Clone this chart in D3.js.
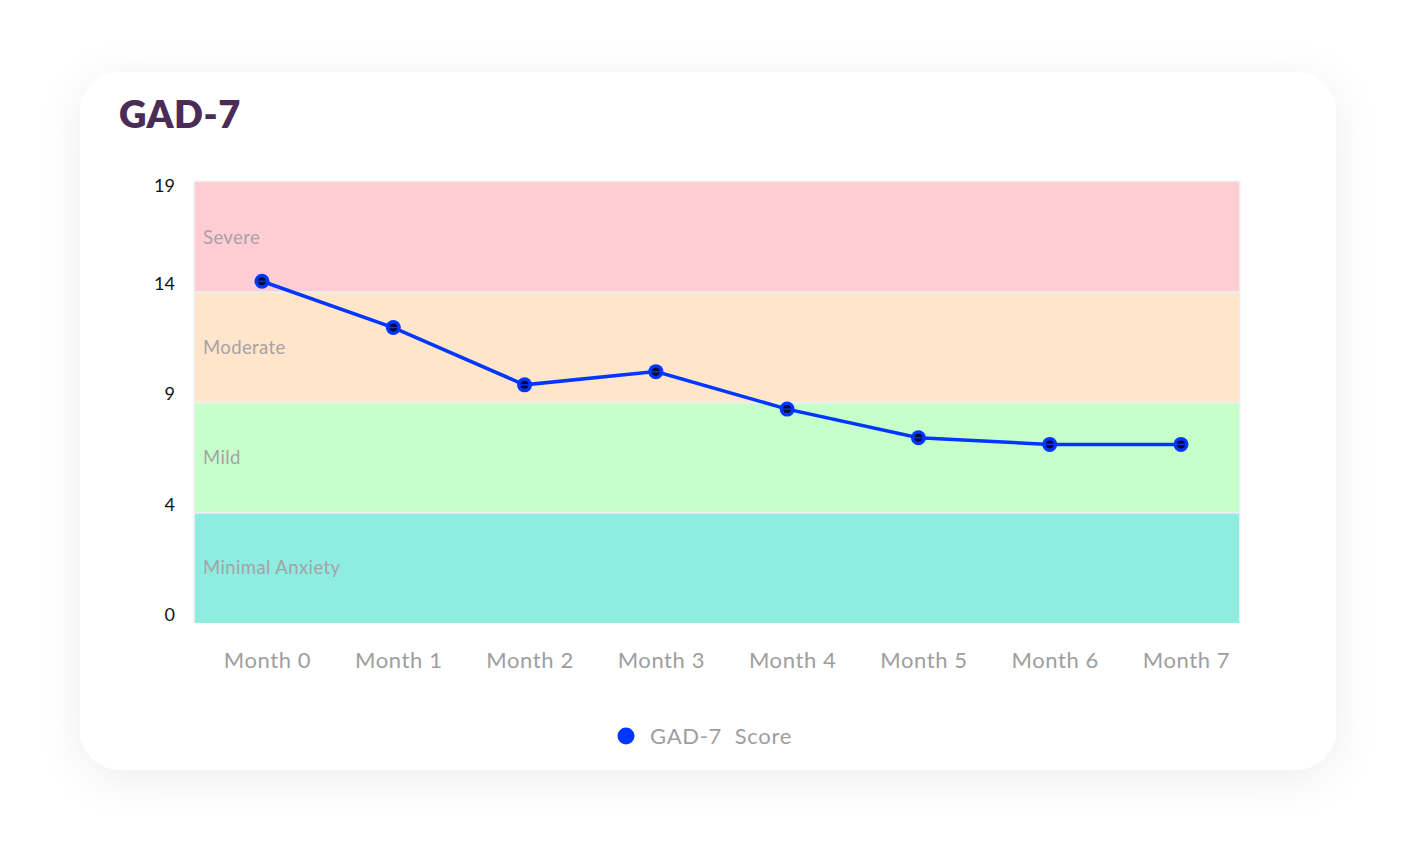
<!DOCTYPE html>
<html>
<head>
<meta charset="utf-8">
<script src="https://cdn.jsdelivr.net/npm/d3@7"></script>
<style>
  html, body { margin: 0; padding: 0; background: #fff; }
  body { width: 1417px; height: 858px; overflow: hidden; font-family: "Lato", "Open Sans", sans-serif; }
</style>
</head>
<body>
<div id="chart"></div>
<script>
// 数据
const months = ["Month 0", "Month 1", "Month 2", "Month 3", "Month 4", "Month 5", "Month 6", "Month 7"];
const scores = [14.5, 12.4, 9.8, 10.4, 8.7, 7.4, 7.1, 7.1];
const yTicks = [0, 4, 9, 14, 19];
const bandNames = ["Minimal Anxiety", "Mild", "Moderate", "Severe"];
const bandColors = ["#8cede0", "#c7ffcb", "#ffe6ca", "#ffcdd3"];

// 布局
const width = 1417, height = 858;
const card = { x: 80, y: 72, w: 1256, h: 698, r: 40 };
const plot = { left: 195, right: 1239, top: 182, bottom: 623 };

const svg = d3.select("#chart").append("svg")
    .attr("width", width)
    .attr("height", height);

// 卡片阴影
const defs = svg.append("defs");
const shadow = defs.append("filter")
    .attr("id", "shadow")
    .attr("x", "-20%").attr("y", "-20%")
    .attr("width", "140%").attr("height", "140%");
shadow.append("feDropShadow")
    .attr("dx", 0).attr("dy", 8)
    .attr("stdDeviation", 22)
    .attr("flood-color", "#000")
    .attr("flood-opacity", 0.07);

svg.append("rect")
    .attr("x", card.x).attr("y", card.y)
    .attr("width", card.w).attr("height", card.h)
    .attr("rx", card.r)
    .attr("fill", "#fff")
    .attr("filter", "url(#shadow)");

svg.append("text")
    .attr("x", 119).attr("y", 128)
    .attr("fill", "#4a2c56")
    .style("font-size", "38px")
    .style("font-weight", 800)
    .style("letter-spacing", "0.5px")
    .text("GAD-7");

// 分段比例尺：每个等级同样高度
const bandH = (plot.bottom - plot.top) / bandNames.length;
const y = d3.scaleLinear()
    .domain(yTicks)
    .range(yTicks.map((d, i) => plot.bottom - i * bandH));

const x = d3.scalePoint()
    .domain(months)
    .range([262, 1181]);

// 外框
svg.append("rect")
    .attr("x", plot.left - 1.5).attr("y", plot.top - 1.5)
    .attr("width", plot.right - plot.left + 3)
    .attr("height", plot.bottom - plot.top + 1.5)
    .attr("fill", "#eeeeee");

const bands = bandNames.map((name, i) => ({ name, lo: yTicks[i], hi: yTicks[i + 1], color: bandColors[i] }));

svg.append("g").selectAll("rect")
    .data(bands)
    .join("rect")
    .attr("x", plot.left)
    .attr("width", plot.right - plot.left)
    .attr("y", d => y(d.hi) + (d.hi === 19 ? 0 : 1))
    .attr("height", d => y(d.lo) - y(d.hi) - (d.hi === 19 ? 1 : 2) + (d.lo === 0 ? 1 : 0))
    .attr("fill", d => d.color);

svg.append("g").selectAll("text")
    .data(bands)
    .join("text")
    .attr("x", plot.left + 8)
    .attr("y", d => (y(d.lo) + y(d.hi)) / 2)
    .attr("dy", "0.35em")
    .attr("fill", "#a6a2a7")
    .style("font-size", "18.5px")
    .style("letter-spacing", "0.4px")
    .text(d => d.name);

// Y 轴刻度
const yAxis = svg.append("g")
    .attr("transform", `translate(${plot.left - 20},0)`)
    .call(d3.axisLeft(y).tickValues(yTicks).tickSize(0).tickPadding(0));
yAxis.select(".domain").remove();
yAxis.selectAll("text")
    .attr("fill", "#111")
    .style("font-family", "Lato, sans-serif")
    .style("font-size", "18px")
    .attr("y", d => d === 19 ? 4 : -8.5)
    .attr("dy", "0.32em");

// X 轴刻度
const xAxis = svg.append("g")
    .attr("transform", `translate(5,${plot.bottom})`)
    .call(d3.axisBottom(x).tickSize(0).tickPadding(0));
xAxis.select(".domain").remove();
xAxis.selectAll("text")
    .attr("fill", "#9e9e9e")
    .style("font-family", "Lato, sans-serif")
    .style("font-size", "22px")
    .style("letter-spacing", "0.6px")
    .attr("y", 37)
    .attr("dy", "0.35em");

// 折线
const line = d3.line()
    .x((d, i) => x(months[i]))
    .y(d => y(d));

svg.append("path")
    .datum(scores)
    .attr("d", line)
    .attr("fill", "none")
    .attr("stroke", "#0036ff")
    .attr("stroke-width", 3.5);

const pts = svg.append("g").selectAll("g")
    .data(scores)
    .join("g")
    .attr("transform", (d, i) => `translate(${x(months[i])},${y(d)})`);
pts.append("circle").attr("r", 7.5).attr("fill", "#0036ff");
pts.append("circle").attr("r", 4).attr("fill", "#0a0a3a");
pts.append("line")
    .attr("x1", -4.5).attr("x2", 4.5)
    .attr("stroke", "#0036ff").attr("stroke-width", 1.3);

// 图例
const legend = svg.append("g").attr("transform", "translate(626,736)");
legend.append("circle").attr("r", 8.5).attr("fill", "#0036ff");
legend.append("text")
    .attr("x", 24).attr("dy", "0.35em")
    .attr("fill", "#9e9e9e")
    .style("font-size", "22px")
    .style("letter-spacing", "0.7px")
    .attr("xml:space", "preserve")
    .text("GAD-7  Score");
</script>
</body>
</html>
